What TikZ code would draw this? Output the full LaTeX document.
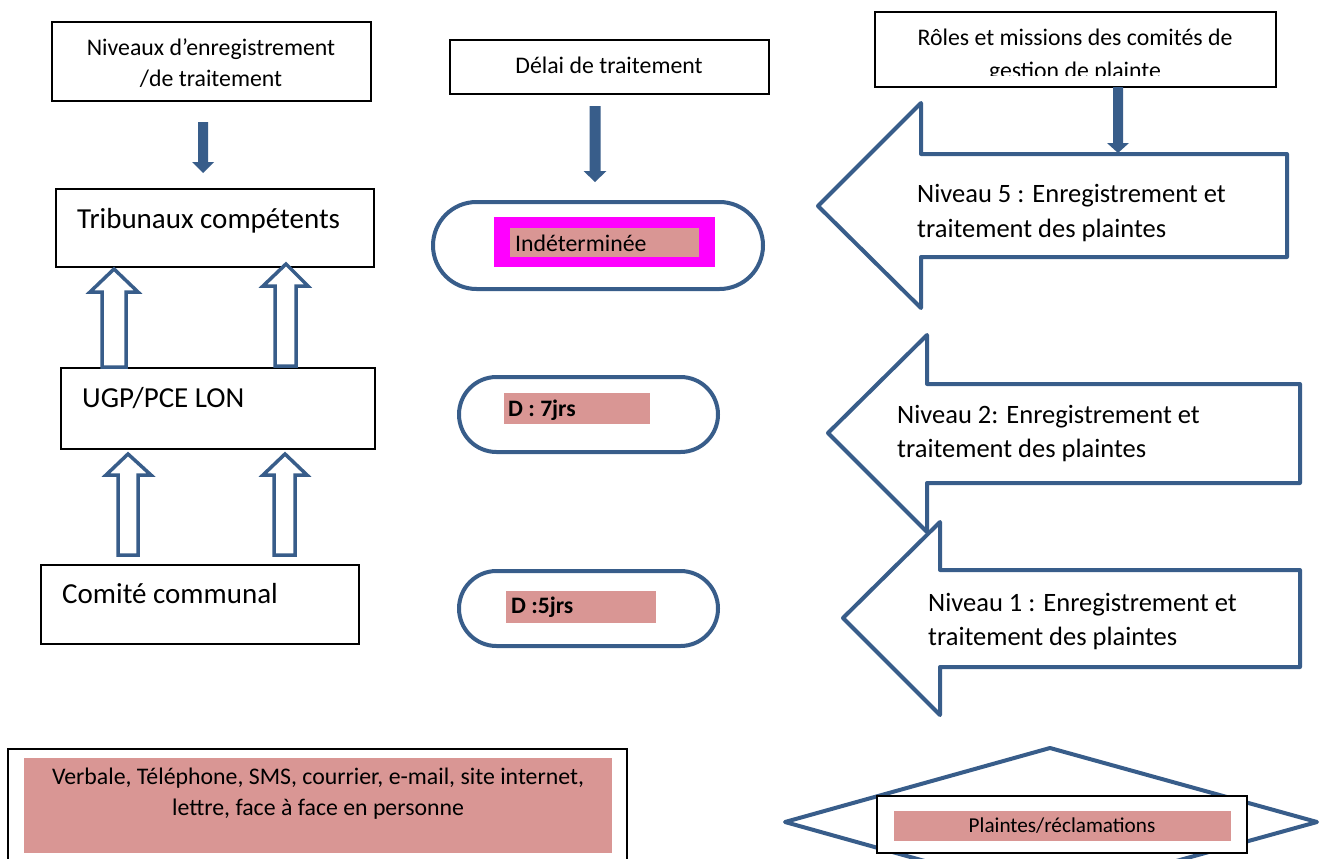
\documentclass[tikz,border=0pt]{standalone}
\usepackage{fontspec}
\setmainfont{Carlito}
\usetikzlibrary{shapes.misc}
\definecolor{arrblue}{HTML}{385D8A}
\definecolor{pinkbg}{HTML}{D99694}
\definecolor{magbg}{HTML}{FF00FF}
\begin{document}
\begin{tikzpicture}[x=1pt,y=-1pt,
  box/.style={draw=black,line width=1.6pt,fill=white,inner sep=0pt,outer sep=0pt},
  stadium/.style={rounded rectangle,draw=arrblue,line width=4pt,fill=white,inner sep=0pt},
  bigtxt/.style={inner sep=0pt,anchor=base west,font=\fontsize{29}{34}\selectfont},
  nivtxt/.style={inner sep=0pt,anchor=base west,font=\fontsize{26.5}{31}\selectfont},
  smalltxt/.style={inner sep=0pt,anchor=base,font=\fontsize{23.8}{28}\selectfont},
  dtxt/.style={inner sep=0pt,anchor=base west,font=\fontsize{23.6}{28}\selectfont\bfseries},
  solidarrow/.style={fill=arrblue},
  hollowarrow/.style={draw=arrblue,line width=3.5pt,fill=white,line join=miter},
  callout/.style={draw=arrblue,line width=4pt,fill=white,line join=round}]
\clip (0,0) rectangle (1320,859);
\fill[white] (0,0) rectangle (1320,859);

% ---------- left column ----------
\node[box,minimum width=319pt,minimum height=79pt] (niv) at (211.5,61.5) {};
\node[smalltxt] (niv1) at (211,56) {Niveaux d’enregistrement};
\node[smalltxt] (niv2) at (211,87) {/de traitement};
\fill[solidarrow] (198,122) -- (208,122) -- (208,162) -- (214,162) -- (203,173) -- (192,162) -- (198,162) -- cycle;

\node[box,minimum width=318pt,minimum height=78pt] (trib) at (215,228) {};
\node[bigtxt] (tribt) at (77,228) {Tribunaux compétents};

\node[box,minimum width=314pt,minimum height=81pt] (ugp) at (218,408.5) {};
\node[bigtxt] (ugpt) at (82,407) {UGP/PCE LON};

\node[box,minimum width=318pt,minimum height=79pt] (com) at (200,604.5) {};
\node[bigtxt] (comt) at (62,603) {Comité communal};

% hollow up arrows
\draw[hollowarrow] (102,367) -- (102,292) -- (90,292) -- (114,269) -- (138,292) -- (126,292) -- (126,367) -- cycle;
\draw[hollowarrow] (275,366) -- (275,286) -- (263,286) -- (286,264) -- (308,286) -- (296,286) -- (296,366) -- cycle;
\draw[hollowarrow] (118,555) -- (118,475) -- (106,475) -- (128,454) -- (151,475) -- (138,475) -- (138,555) -- cycle;
\draw[hollowarrow] (274,555) -- (274,475) -- (263,475) -- (285,454) -- (307,475) -- (295,475) -- (295,555) -- cycle;

% ---------- middle column ----------
\node[box,minimum width=319pt,minimum height=54pt] (del) at (609.5,67) {};
\node[smalltxt] (delt) at (609,74) {Délai de traitement};
\fill[solidarrow] (589.5,106) -- (600.5,106) -- (600.5,171) -- (606.5,171) -- (595,182) -- (583.5,171) -- (589.5,171) -- cycle;

\node[stadium,minimum width=330pt,minimum height=87pt] (s1) at (598,245.5) {};
\fill[magbg] (494,217) rectangle (715,267);
\fill[pinkbg] (510,228) rectangle (699,257);
\node[smalltxt,anchor=base west] (s1t) at (515,251) {Indéterminée};

\node[stadium,minimum width=259pt,minimum height=75pt] (s2) at (588.5,414.5) {};
\fill[pinkbg] (504,393) rectangle (650,424);
\node[dtxt] (s2t) at (508,416) {D : 7jrs};

\node[stadium,minimum width=259pt,minimum height=75pt] (s3) at (588.5,608.5) {};
\fill[pinkbg] (506,591) rectangle (656,623);
\node[dtxt] (s3t) at (511,613) {D :5jrs};

% ---------- right column ----------
\node[box,minimum width=401pt,minimum height=75pt] (role) at (1075.5,49.5) {};
\node[smalltxt] (role1) at (1075,46) {Rôles et missions des comités de};
\begin{scope}
\clip (876,13) rectangle (1275,76);
\node[smalltxt] (role2) at (1075,78) {gestion de plainte};
\end{scope}

\draw[callout] (1287,154) -- (921,154) -- (921,103) -- (818,206) -- (921,308) -- (921,257) -- (1287,257) -- cycle;
\node[nivtxt] (n5a) at (917,202) {Niveau 5 : Enregistrement et};
\node[nivtxt] (n5b) at (917,237) {traitement des plaintes};
\fill[solidarrow] (1113,87) -- (1123,87) -- (1123,143) -- (1129,143) -- (1118,153) -- (1107,143) -- (1113,143) -- cycle;

\draw[callout] (1300,384) -- (927,384) -- (927,335) -- (828,433) -- (927,532) -- (927,483) -- (1300,483) -- cycle;
\node[nivtxt] (n2a) at (897,423) {Niveau 2: Enregistrement et};
\node[nivtxt] (n2b) at (897,457) {traitement des plaintes};

\draw[callout] (1300,570) -- (940,570) -- (940,522) -- (843,618) -- (940,715) -- (940,667) -- (1300,667) -- cycle;
\node[nivtxt] (n1a) at (928,611) {Niveau 1 : Enregistrement et};
\node[nivtxt] (n1b) at (928,645) {traitement des plaintes};

% ---------- bottom ----------
\node[box,minimum width=619pt,minimum height=130pt] (canal) at (317.5,814) {};
\fill[pinkbg] (24,758) rectangle (612,853);
\node[smalltxt,font=\fontsize{23.8}{28}\selectfont] (canal1) at (318,784) {Verbale, Téléphone, SMS, courrier, e-mail, site internet,};
\node[smalltxt,font=\fontsize{23.8}{28}\selectfont] (canal2) at (318,815) {lettre, face à face en personne};

\draw[draw=arrblue,line width=4pt,fill=white,line join=round] (1050,748) -- (1317,822) -- (1050,896) -- (785,822) -- cycle;
\node[box,minimum width=370pt,minimum height=57pt] (pl) at (1062,824.5) {};
\fill[pinkbg] (894,811) rectangle (1231,841);
\node[smalltxt,font=\fontsize{21.2}{25}\selectfont] (plt) at (1062,832) {Plaintes/réclamations};
\end{tikzpicture}
\end{document}
